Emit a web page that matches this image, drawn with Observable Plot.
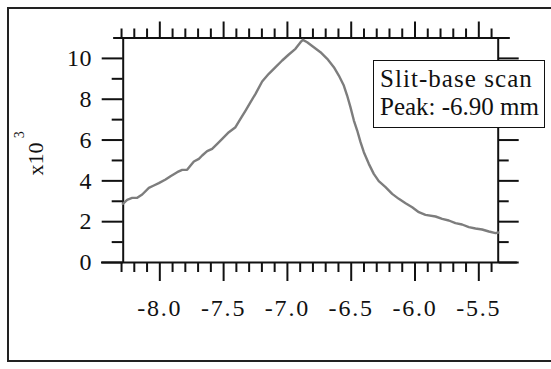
<!DOCTYPE html>
<html>
<head>
<meta charset="utf-8">
<script src="https://cdn.jsdelivr.net/npm/d3@7"></script>
<script src="https://cdn.jsdelivr.net/npm/@observablehq/plot@0.6"></script>
<style>
  html, body { margin: 0; padding: 0; background: #fff; }
  #wrap { position: relative; width: 551px; height: 369px; overflow: hidden; background: #fff; font-family: "Liberation Serif", "Times New Roman", serif; }
  #outer { position: absolute; left: 7px; top: 7px; width: 600px; height: 355px; border: 2px solid #222; box-sizing: border-box; }
  #chart { position: absolute; left: 0; top: 0; }
  #legend { position: absolute; left: 373px; top: 60px; width: 172px; height: 68px; box-sizing: border-box; border: 1.6px solid #111; background: #fff; padding: 4px 0 0 6px; font-size: 25px; line-height: 28.4px; color: #111; white-space: nowrap; }
  #legend .l1 { letter-spacing: 1.05px; }
  #chart g[aria-label="x-axis tick label"] text { letter-spacing: 1.8px; }
  #chart g[aria-label="y-axis tick label"] text { letter-spacing: 0.6px; }
</style>
</head>
<body>
<div id="wrap">
  <div id="outer"></div>
  <div id="chart"></div>
  <div id="legend"><div class="l1">Slit-base scan</div><div>Peak: -6.90 mm</div></div>
</div>
<script>
// Scan position (mm)
const scanPos = [-8.290,-8.256,-8.217,-8.177,-8.138,-8.086,-8.047,-8.008,-7.955,-7.916,-7.864,-7.825,-7.786,-7.759,-7.733,-7.694,-7.668,-7.629,-7.590,-7.550,-7.511,-7.459,-7.407,-7.368,-7.328,-7.289,-7.250,-7.198,-7.146,-7.093,-7.041,-6.989,-6.937,-6.897,-6.879,-6.845,-6.793,-6.741,-6.688,-6.636,-6.597,-6.558,-6.532,-6.506,-6.479,-6.453,-6.427,-6.401,-6.362,-6.323,-6.284,-6.231,-6.179,-6.127,-6.074,-6.022,-5.970,-5.918,-5.839,-5.787,-5.735,-5.683,-5.631,-5.578,-5.526,-5.474,-5.421,-5.369,-5.348];
// Counts (x10^3)
const counts = [2.874,3.070,3.168,3.168,3.332,3.658,3.773,3.887,4.067,4.230,4.426,4.540,4.540,4.753,4.949,5.079,5.243,5.455,5.569,5.814,6.059,6.386,6.631,7.039,7.447,7.856,8.264,8.868,9.244,9.570,9.897,10.191,10.469,10.795,10.910,10.795,10.550,10.305,9.979,9.570,9.162,8.672,8.182,7.611,6.957,6.467,5.896,5.406,4.834,4.344,3.985,3.691,3.364,3.119,2.907,2.711,2.466,2.335,2.254,2.139,2.058,1.927,1.862,1.731,1.666,1.617,1.519,1.437,1.470];

const xMajor = [-8.0, -7.5, -7.0, -6.5, -6.0, -5.5];
const xMinor = [-8.3,-8.2,-8.1,-7.9,-7.8,-7.7,-7.6,-7.4,-7.3,-7.2,-7.1,-6.9,-6.8,-6.7,-6.6,-6.4,-6.3,-6.2,-6.1,-5.9,-5.8,-5.7,-5.6,-5.4];
const yMajor = [0, 2, 4, 6, 8, 10];
const yMinor = [1, 3, 5, 7, 9];
const yLabel = "x10";
const yLabelExp = "3";

const data = scanPos.map((x, i) => ({x, y: counts[i]}));

const xDom = [-8.287, -5.348];
const yDom = [0, 11];
const ink = "#111";
const sw = 2;
const blank = () => "";

const chart = Plot.plot({
  width: 551,
  height: 369,
  marginLeft: 122.7,
  marginRight: 53.3,
  marginTop: 37.5,
  marginBottom: 107,
  x: {domain: xDom},
  y: {domain: yDom},
  style: {fontFamily: "'Liberation Serif', 'Times New Roman', serif", background: "transparent", color: ink},
  marks: [
    Plot.ruleY([yDom[0]], {x1: xDom[0] - 0.17, x2: xDom[1] + 0.15, stroke: ink, strokeWidth: sw}),
    Plot.ruleY([yDom[1]], {x1: xDom[0] - 0.075, x2: xDom[1] + 0.095, stroke: ink, strokeWidth: sw}),
    Plot.ruleX([xDom[0]], {y1: yDom[0], y2: yDom[1], stroke: ink, strokeWidth: sw}),
    Plot.ruleX([xDom[1]], {y1: yDom[0], y2: yDom[1], stroke: ink, strokeWidth: sw}),
    Plot.axisX({ticks: xMajor, anchor: "bottom", tickSize: 19, tickPadding: 17.5, fontSize: 24, tickFormat: d => d.toFixed(1), label: null, stroke: ink, strokeWidth: sw}),
    Plot.axisX({ticks: xMinor, anchor: "bottom", tickSize: 10, tickFormat: blank, label: null, stroke: ink, strokeWidth: sw}),
    Plot.axisX({ticks: xMajor, anchor: "top", tickSize: 17, tickFormat: blank, label: null, stroke: ink, strokeWidth: sw}),
    Plot.axisX({ticks: xMinor, anchor: "top", tickSize: 10, tickFormat: blank, label: null, stroke: ink, strokeWidth: sw}),
    Plot.axisY({ticks: yMajor, anchor: "left", tickSize: 21, tickPadding: 10, fontSize: 24, tickFormat: d => String(d), label: null, stroke: ink, strokeWidth: sw}),
    Plot.axisY({ticks: yMinor, anchor: "left", tickSize: 11, tickFormat: blank, label: null, stroke: ink, strokeWidth: sw}),
    Plot.axisY({ticks: yMajor, anchor: "right", tickSize: 20, tickFormat: blank, label: null, stroke: ink, strokeWidth: sw}),
    Plot.axisY({ticks: yMinor, anchor: "right", tickSize: 10, tickFormat: blank, label: null, stroke: ink, strokeWidth: sw}),
    Plot.text([yLabel], {frameAnchor: "left", text: d => d, textAnchor: "middle", lineAnchor: "middle", rotate: -90, dx: -87.4, dy: 8.8, fontSize: 22, fill: ink}),
    Plot.text([yLabelExp], {frameAnchor: "left", text: d => d, textAnchor: "middle", lineAnchor: "middle", rotate: -90, dx: -103.5, dy: -15.5, fontSize: 14, fill: ink}),
    Plot.line(data, {x: "x", y: "y", stroke: "#7d7d7d", strokeWidth: 2.4})
  ]
});
document.getElementById("chart").appendChild(chart);
</script>
</body>
</html>
